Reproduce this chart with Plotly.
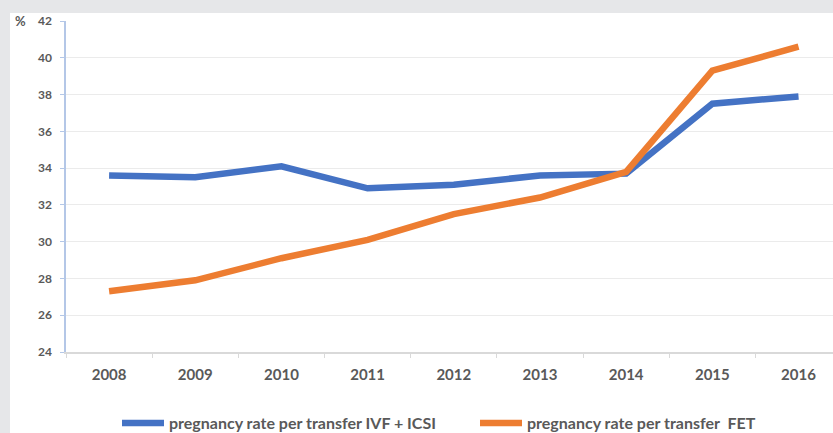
import plotly.graph_objects as go

years = ["2008", "2009", "2010", "2011", "2012", "2013", "2014", "2015", "2016"]
ivf_icsi = [33.6, 33.5, 34.1, 32.9, 33.1, 33.6, 33.7, 37.5, 37.9]
fet = [27.3, 27.9, 29.1, 30.1, 31.5, 32.4, 33.8, 39.3, 40.6]
y_ticks = [24, 26, 28, 30, 32, 34, 36, 38, 40, 42]
names = ["pregnancy rate per transfer IVF + ICSI", "pregnancy rate per transfer  FET"]

W, H = 833, 433
L, R, T, B = 66, 0, 21, 81
pw, ph = W - L - R, H - T - B

def px_x(px):
    return (px - L) / pw

def px_y(py):
    return (H - B - py) / ph

fig = go.Figure()
fig.add_trace(go.Scatter(x=years, y=ivf_icsi, mode="lines", name=names[0],
                         line=dict(color="#4472C4", width=6.5)))
fig.add_trace(go.Scatter(x=years, y=fet, mode="lines", name=names[1],
                         line=dict(color="#ED7D31", width=6.5)))

tickfont = dict(family="Lato, Open Sans, sans-serif", color="#595959", weight="bold")

fig.update_layout(
    width=W, height=H,
    margin=dict(l=L, r=R, t=T, b=B, autoexpand=False),
    paper_bgcolor="white", plot_bgcolor="white",
    showlegend=True,
    legend=dict(orientation="h", x=px_x(117), xanchor="left", y=px_y(423), yanchor="middle",
                font=dict(family="Lato, Open Sans, sans-serif", size=16, color="#595959", weight="bold"),
                itemwidth=42, entrywidth=301, entrywidthmode="pixels", bgcolor="rgba(0,0,0,0)"),
    xaxis=dict(type="category", range=[-0.5, 8.4], showgrid=False,
               showline=True, linecolor="#d9d9d9", linewidth=1.5,
               ticks="outside", tickson="boundaries", ticklen=4, tickcolor="#d9d9d9",
               tickfont=dict(size=15, **tickfont), ticklabelstandoff=8, zeroline=False),
    yaxis=dict(range=[24, 42], tickvals=y_ticks, showgrid=True, gridcolor="#ebebeb", gridwidth=1.2,
               showline=True, linecolor="#b4c7e7", linewidth=1.5,
               ticks="outside", ticklen=4, tickcolor="#b4c7e7",
               tickfont=dict(size=12, **tickfont), ticklabelstandoff=6, zeroline=False),
    shapes=[
        dict(type="rect", xref="paper", yref="paper", x0=px_x(0), x1=px_x(W), y0=px_y(0), y1=px_y(13),
             fillcolor="#e6e7e9", line=dict(width=0), layer="below"),
        dict(type="rect", xref="paper", yref="paper", x0=px_x(0), x1=px_x(10), y0=px_y(H), y1=px_y(0),
             fillcolor="#e6e7e9", line=dict(width=0), layer="below"),
    ],
    annotations=[dict(text="%", xref="paper", yref="paper", x=px_x(20), y=px_y(21),
                      showarrow=False, xanchor="center", yanchor="middle",
                      font=dict(family="Lato, Open Sans, sans-serif", size=13, color="#595959", weight="bold"))],
)

fig.write_html("out.html", config={"displayModeBar": False},
               post_script="document.body.style.margin='0';document.body.style.overflow='hidden';")
